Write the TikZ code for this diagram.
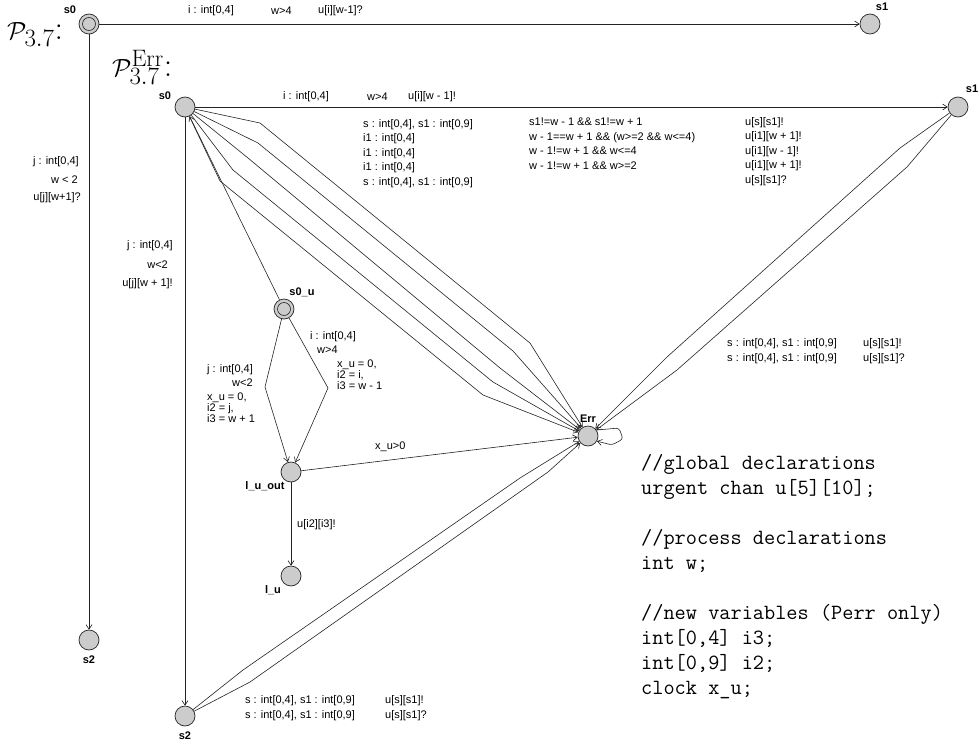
\documentclass[tikz,border=0pt]{standalone}
\usepackage{fontspec}
\newfontfamily\uppfont{Liberation Sans}
\usetikzlibrary{arrows.meta}
\definecolor{locgray}{RGB}{204,204,204}
\definecolor{edgecol}{RGB}{35,35,35}
\tikzset{
  loc/.style={circle,draw=black!85,fill=locgray,minimum size=20pt,
              inner sep=0pt,line width=0.7pt},
  initloc/.style={loc,path picture={\draw[black!85,line width=0.6pt]
              (path picture bounding box.center) circle (6.5pt);}},
  edge/.style={draw=edgecol,line width=0.6pt,
              -{Straight Barb[length=4.5pt,width=6pt]}},
  lbl/.style={font=\uppfont\fontsize{11}{14.5}\selectfont,inner sep=0pt,align=left},
  locname/.style={font=\uppfont\bfseries\fontsize{11}{13}\selectfont,inner sep=0pt},
}
\begin{document}
\begin{tikzpicture}[x=1pt,y=-1pt,
  title/.style={font=\fontsize{34}{38}\selectfont,inner sep=0pt,anchor=base west},
  code/.style={font=\ttfamily\fontsize{21.7}{25}\selectfont,inner sep=0pt,
               align=left,anchor=base west}
]
  \useasboundingbox (0,0) rectangle (978,747);

  % P_3.7
  \node[title] (ttlA) at (7,39) {$\mathcal{P}_{3.7}$:};
  \node[initloc] (s0a) at (89,24) {};
  \node[loc] (s1a) at (870,24) {};
  \node[loc] (s2a) at (89,640) {};
  \node[locname] (ns0a) at (70,10) {s0};
  \node[locname] (ns1a) at (882,7) {s1};
  \node[locname] (ns2a) at (89,660) {s2};

  \draw[edge] (s0a) -- (s1a);
  \draw[edge] (s0a) -- (s2a);

  \node[lbl,anchor=west] (ga1) at (188,11) {i : int[0,4]};
  \node[lbl,anchor=west] (ga2) at (271,11) {w>4};
  \node[lbl,anchor=west] (ga3) at (318,11) {u[i][w-1]?};
  \node[lbl,anchor=east] (ga4) at (79,162) {j : int[0,4]};
  \node[lbl,anchor=east] (ga5) at (78,180) {w < 2};
  \node[lbl,anchor=east] (ga6) at (81,198) {u[j][w+1]?};

  % P_3.7^Err
  \node[title] (ttlB) at (112,76) {$\mathcal{P}^{\mathrm{Err}}_{3.7}$:};
  \node[loc] (s0) at (185,107) {};
  \node[loc] (s1) at (958,107) {};
  \node[loc] (s2) at (185,716) {};
  \node[initloc] (s0u) at (284,309) {};
  \node[loc] (lout) at (291,472) {};
  \node[loc] (lu) at (291,576) {};
  \node[loc] (err) at (588,436) {};
  \node[locname] (ns0) at (165,96) {s0};
  \node[locname] (ns1) at (972,89) {s1};
  \node[locname] (ns2) at (185,736) {s2};
  \node[locname] (ns0u) at (302,292) {s0\_u};
  \node[locname] (nlout) at (265,486) {l\_u\_out};
  \node[locname] (nlu) at (273,590) {l\_u};
  \node[locname] (nerr) at (588,419) {Err};

  \draw[edge] (s0) -- (s1);
  \draw[edge] (s0) -- (s2);
  \draw[edge] (s0u) -- (s0);

  % s0 -> Err, five nailed edges
  \draw[edge] (s0) -- (260,123) -- (530,343) -- (err);
  \draw[edge] (s0) -- (258,143) -- (513,351) -- (err);
  \draw[edge] (s0) -- (248,158) -- (500,368) -- (err);
  \draw[edge] (s0) -- (233,170) -- (493,382) -- (err);
  \draw[edge] (s0) -- (220,181) -- (483,395) -- (err);

  % s1 and s2 -> Err
  \draw[edge] (s1) -- (900,148) -- (667,357) -- (err);
  \draw[edge] (s1) -- (907,167) -- (677,370) -- (err);
  \draw[edge] (s2) -- (243,670) -- (520,478) -- (err);
  \draw[edge] (s2) -- (250,682) -- (548,472) -- (err);

  % self loop
  \draw[edge,rounded corners=3pt] (err.35) -- (619,428) -- (623,439) -- (612,445) -- (err.-30);

  % urgent part
  \draw[edge] (s0u) -- (265,387) -- (lout);
  \draw[edge] (s0u) -- (328,388) -- (lout);
  \draw[edge] (lout) -- (err);
  \draw[edge] (lout) -- (lu);

  % labels (multi-line: anchored at the last baseline)
  \node[lbl,anchor=west] (gb1) at (283,97) {i : int[0,4]};
  \node[lbl,anchor=west] (gb2) at (367,97) {w>4};
  \node[lbl,anchor=west] (gb3) at (408,97) {u[i][w - 1]!};
  \node[lbl,anchor=east] (gb4) at (173,246) {j : int[0,4]};
  \node[lbl,anchor=east] (gb5) at (168,265) {w<2};
  \node[lbl,anchor=east] (gb6) at (173,284) {u[j][w + 1]!};

  \node[lbl,anchor=base west] (sel) at (363,185)
    {s : int[0,4], s1 : int[0,9]\\ i1 : int[0,4]\\ i1 : int[0,4]\\ i1 : int[0,4]\\
     s : int[0,4], s1 : int[0,9]};
  \node[lbl,anchor=base west] (grd) at (529,169)
    {s1!=w - 1 \&\& s1!=w + 1\\ w - 1==w + 1 \&\& (w>=2 \&\& w<=4)\\
     w - 1!=w + 1 \&\& w<=4\\ w - 1!=w + 1 \&\& w>=2};
  \node[lbl,anchor=base west] (syn) at (745,183)
    {u[s][s1]!\\ u[i1][w + 1]!\\ u[i1][w - 1]!\\ u[i1][w + 1]!\\ u[s][s1]?};

  \node[lbl,anchor=base west] (sel1) at (727,361)
    {s : int[0,4], s1 : int[0,9]\\ s : int[0,4], s1 : int[0,9]};
  \node[lbl,anchor=base west] (syn1) at (863,361) {u[s][s1]!\\ u[s][s1]?};
  \node[lbl,anchor=base west] (sel2) at (245,718)
    {s : int[0,4], s1 : int[0,9]\\ s : int[0,4], s1 : int[0,9]};
  \node[lbl,anchor=base west] (syn2) at (385,718) {u[s][s1]!\\ u[s][s1]?};

  \node[lbl,anchor=west] (gc1) at (207,370) {j : int[0,4]};
  \node[lbl,anchor=west] (gc2) at (232,383) {w<2};
  \node[lbl,anchor=base west,font=\uppfont\fontsize{11}{11.3}\selectfont] (gc3) at (207,422.6)
    {x\_u = 0,\\ i2 = j,\\ i3 = w + 1};
  \node[lbl,anchor=west] (gd1) at (310,337) {i : int[0,4]};
  \node[lbl,anchor=west] (gd2) at (317,350) {w>4};
  \node[lbl,anchor=base west,font=\uppfont\fontsize{11}{11.3}\selectfont] (gd3) at (337,389.6)
    {x\_u = 0,\\ i2 = i,\\ i3 = w - 1};
  \node[lbl,anchor=west] (ge1) at (375,447) {x\_u>0};
  \node[lbl,anchor=west] (ge2) at (297,525) {u[i2][i3]!};

  % declarations
  \node[code] (decl) at (641,694)
    {//global declarations\\ urgent chan u[5][10];\\[25pt]
     //process declarations\\ int w;\\[25pt]
     //new variables (Perr only)\\ int[0,4] i3;\\ int[0,9] i2;\\ clock x\_u;};
\end{tikzpicture}
\end{document}
